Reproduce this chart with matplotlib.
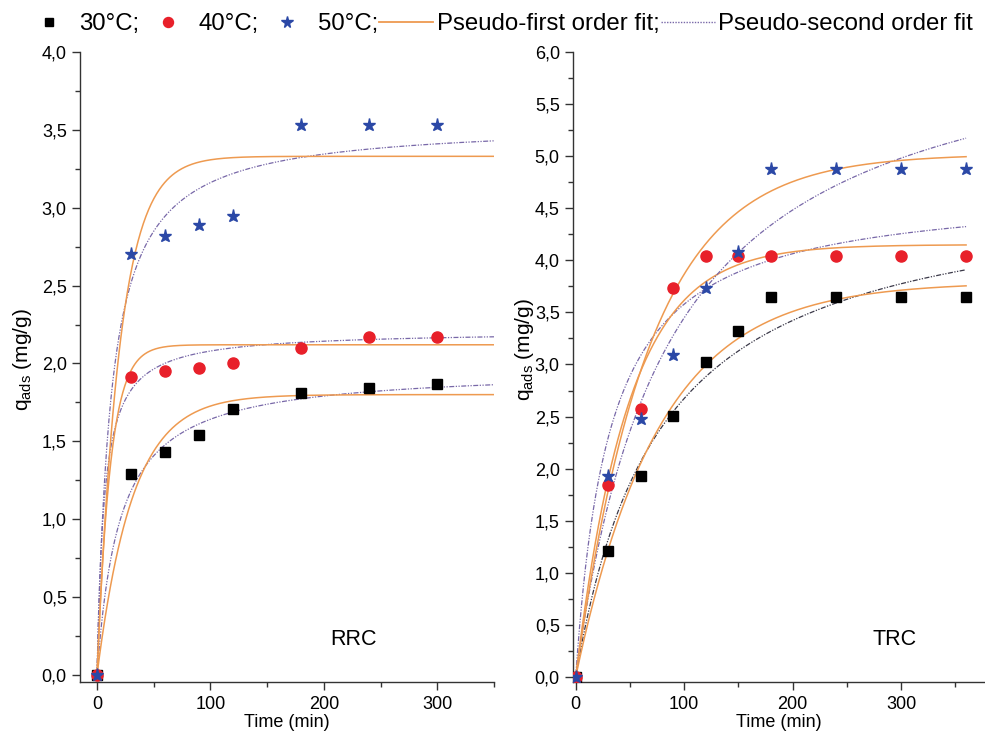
import numpy as np
import matplotlib
matplotlib.use("Agg")
import matplotlib.pyplot as plt
from matplotlib.ticker import FuncFormatter, MultipleLocator
from matplotlib.lines import Line2D

plt.rcParams['font.family'] = ['Liberation Sans', 'DejaVu Sans']
plt.rcParams['mathtext.fontset'] = 'custom'
plt.rcParams['mathtext.rm'] = 'Liberation Sans'
plt.rcParams['mathtext.it'] = 'Liberation Sans:italic'

# ---------------- data ----------------
temps = ["30°C;", "40°C;", "50°C;"]

# RRC panel
rrc_time = [0, 30, 60, 90, 120, 180, 240, 300]
rrc_30 = [0, 1.29, 1.43, 1.54, 1.71, 1.81, 1.84, 1.87]
rrc_40 = [0, 1.91, 1.95, 1.97, 2.00, 2.10, 2.17, 2.17]
rrc_50 = [0, 2.70, 2.82, 2.89, 2.95, 3.53, 3.53, 3.53]
# fit parameters (qe, k)
rrc_pfo_qe = [1.80, 2.12, 3.33]
rrc_pfo_k = [0.032, 0.085, 0.050]
rrc_pso_qe = [1.97, 2.21, 3.55]
rrc_pso_k = [0.0254, 0.0724, 0.0229]

# TRC panel
trc_time = [0, 30, 60, 90, 120, 150, 180, 240, 300, 360]
trc_30 = [0, 1.21, 1.93, 2.51, 3.02, 3.32, 3.65, 3.65, 3.65, 3.65]
trc_40 = [0, 1.84, 2.57, 3.73, 4.04, 4.04, 4.04, 4.04, 4.04, 4.04]
trc_50 = [0, 1.93, 2.48, 3.09, 3.73, 4.08, 4.88, 4.88, 4.88, 4.88]
trc_pfo_qe = [3.79, 4.15, 5.02]
trc_pfo_k = [0.013, 0.0205, 0.0147]
trc_pso_qe = [4.755, 4.70, 6.405]
trc_pso_k = [0.0027, 0.00679, 0.00182]

panel_labels = ["RRC", "TRC"]

# ---------------- style ----------------
mk_style = [dict(marker='s', color='black', ms=6.8),
            dict(marker='o', color='#E8202A', ms=8),
            dict(marker='*', color='#2B48A6', ms=9.5)]
orange = '#EE9A50'
purple_rrc = ['#7868A8', '#7868A8', '#7868A8']
purple_trc = ['#3A3848', '#7868A8', '#7868A8']
dashdot = (0, (4, 1.2, 1, 1.2, 1, 1.2))

fig = plt.figure(figsize=(9.85, 7.33), dpi=100)
ax1 = fig.add_axes([0.0812, 0.0696, 0.4203, 0.8595])
ax2 = fig.add_axes([0.5817, 0.0696, 0.4178, 0.8595])

comma = FuncFormatter(lambda v, p: ("%.1f" % v).replace('.', ','))


def pfo(t, qe, k):
    return qe * (1 - np.exp(-k * t))


def pso(t, qe, k):
    return k * qe ** 2 * t / (1 + k * qe * t)


def draw(ax, time, series, pfo_qe, pfo_k, pso_qe, pso_k, purple, tmax, xlim, ylim,
         label, lab_xy, ylab_xy):
    tt = np.linspace(0, tmax, 600)
    for i in range(3):
        ax.plot(tt, pso(tt, pso_qe[i], pso_k[i]), color=purple[i], lw=0.9,
                ls=dashdot, zorder=2)
        ax.plot(tt, pfo(tt, pfo_qe[i], pfo_k[i]), color=orange, lw=1.1, zorder=2)
    for i, s in enumerate(series):
        st = mk_style[i]
        ax.plot(time, s, ls='none', marker=st['marker'], color=st['color'],
                ms=st['ms'], mec=st['color'], zorder=3)
    ax.set_xlim(*xlim)
    ax.set_ylim(*ylim)
    for sp in ['top', 'right']:
        ax.spines[sp].set_visible(False)
    for sp in ['left', 'bottom']:
        ax.spines[sp].set_linewidth(1.0)
        ax.spines[sp].set_color('#333333')
    ax.xaxis.set_major_locator(MultipleLocator(100))
    ax.xaxis.set_minor_locator(MultipleLocator(50))
    ax.yaxis.set_major_locator(MultipleLocator(0.5))
    ax.yaxis.set_minor_locator(MultipleLocator(0.25))
    ax.yaxis.set_major_formatter(comma)
    ax.tick_params(which='major', direction='out', length=6, width=1, labelsize=13,
                   color='#333333')
    ax.tick_params(axis='y', which='major', pad=3.5)
    ax.tick_params(axis='x', which='major', pad=4)
    ax.tick_params(which='minor', direction='out', length=3.5, width=1, color='#333333')
    ax.set_xlabel('Time (min)', fontsize=13, labelpad=1)
    ax.set_ylabel(r'q$_{\mathrm{ads}}$ (mg/g)', fontsize=15)
    ax.yaxis.set_label_coords(*ylab_xy)
    ax.text(lab_xy[0], lab_xy[1], label, transform=ax.transAxes, fontsize=15.5,
            ha='left', va='center')


draw(ax1, rrc_time, [rrc_30, rrc_40, rrc_50], rrc_pfo_qe, rrc_pfo_k, rrc_pso_qe, rrc_pso_k,
     purple_rrc, 350, (-15, 350), (-0.045, 4.0), panel_labels[0], (0.604, 0.068),
     (-0.111, 0.511))
draw(ax2, trc_time, [trc_30, trc_40, trc_50], trc_pfo_qe, trc_pfo_k, trc_pso_qe, trc_pso_k,
     purple_trc, 360, (-2.5, 377), (-0.048, 6.0), panel_labels[1], (0.729, 0.068),
     (-0.09, 0.527))

handles = [Line2D([], [], ls='none', marker=mk_style[i]['marker'], color=mk_style[i]['color'],
                  ms=mk_style[i]['ms'] * 0.9) for i in range(3)]
handles.append(Line2D([], [], color=orange, lw=1.3))
handles.append(Line2D([], [], color=purple_rrc[1], lw=1.0, ls=(0, (1, 1))))
labels = temps + ["Pseudo-first order fit;", "Pseudo-second order fit"]
fig.legend(handles, labels, loc='center', bbox_to_anchor=(0.505, 0.9666), ncol=5,
           frameon=False, fontsize=17.3, handlelength=2.25, handletextpad=0.15,
           columnspacing=0.05, borderpad=0.0, borderaxespad=0.0)

fig.savefig('out.png', dpi=100)
